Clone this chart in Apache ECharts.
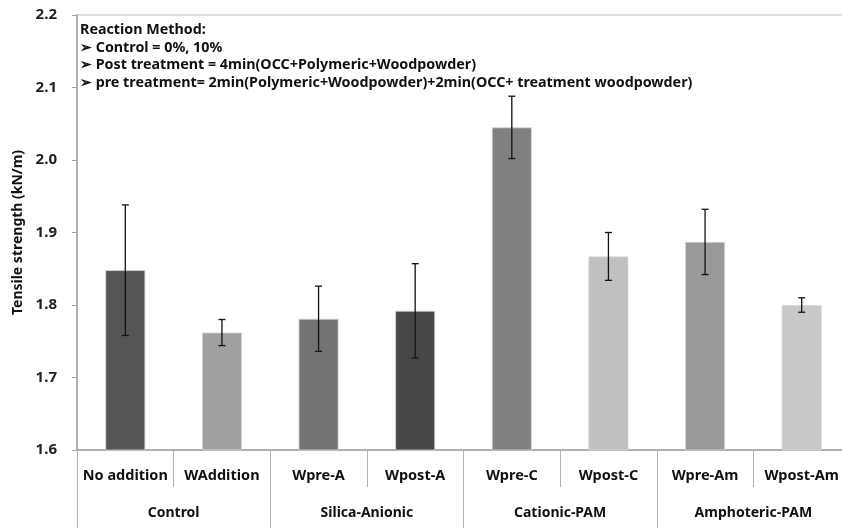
<!DOCTYPE html>
<html><head><meta charset="utf-8">
<script src="https://cdn.jsdelivr.net/npm/echarts@6/dist/echarts.min.js"></script>
<style>html,body{margin:0;padding:0;background:#fff}#c{width:842px;height:528px}</style>
</head><body><div id="c"></div>
<script>
const categories = ['No addition','WAddition','Wpre-A','Wpost-A','Wpre-C','Wpost-C','Wpre-Am','Wpost-Am'];
const groups = ['Control','Silica-Anionic','Cationic-PAM','Amphoteric-PAM'];
const values = [1.848, 1.762, 1.781, 1.792, 2.045, 1.867, 1.887, 1.800];
const errors = [0.090, 0.018, 0.045, 0.065, 0.043, 0.033, 0.045, 0.010];
const barColors = ['#555555','#a0a0a0','#737373','#464846','#808080','#c0c0c0','#999999','#c8c8c8'];
const yTicks = [1.6, 2.2, 0.1];
const noteLines = [
  'Reaction Method:',
  '➢ Control = 0%, 10%',
  '➢ Post treatment = 4min(OCC+Polymeric+Woodpowder)',
  '➢ pre treatment= 2min(Polymeric+Woodpowder)+2min(OCC+ treatment woodpowder)'
];
const FONT = '"Noto Sans", sans-serif';
const chart = echarts.init(document.getElementById('c'), null, {renderer:'canvas'});
const errData = values.map((v,i)=>[i, v - errors[i], v + errors[i]]);
chart.setOption({
  animation:false,
  backgroundColor:'#fff',
  grid:{left:77, top:15, width:773, height:435, containLabel:false, outerBoundsMode:'none',
        show:true, borderColor:'#c0c0c0', borderWidth:1, backgroundColor:'transparent'},
  xAxis:[{
    type:'category', data:categories, position:'bottom',
    axisLine:{lineStyle:{color:'#a0a0a0', width:1.5}},
    axisTick:{show:true, length:37, lineStyle:{color:'#b0b0b0'}},
    axisLabel:{color:'#111', fontFamily:FONT, fontWeight:'bold', fontSize:14.5, margin:18, interval:0}
  },{
    type:'category', data:groups, position:'bottom', gridIndex:0,
    axisLine:{show:false},
    axisTick:{show:true, length:80, lineStyle:{color:'#b0b0b0'}},
    axisLabel:{color:'#111', fontFamily:FONT, fontWeight:'bold', fontSize:14, margin:56, interval:0}
  }],
  yAxis:{
    type:'value', min:yTicks[0], max:yTicks[1], interval:yTicks[2],
    name:'Tensile strength (kN/m)', nameLocation:'middle', nameGap:52, nameRotate:90,
    nameTextStyle:{color:'#111', fontFamily:FONT, fontWeight:'bold', fontSize:14},
    axisLine:{show:true, lineStyle:{color:'#a0a0a0', width:1.5}},
    axisTick:{show:true, length:5, lineStyle:{color:'#a0a0a0'}},
    axisLabel:{color:'#222', fontFamily:FONT, fontWeight:'bold', fontSize:15, margin:20, formatter:v=>v.toFixed(1)},
    splitLine:{show:false}
  },
  series:[{
    type:'bar', xAxisIndex:0, barCategoryGap:'58.6%',
    data:values.map((v,i)=>({value:v, itemStyle:{color:barColors[i], borderColor:'#d8d8d8', borderWidth:0.8}}))
  },{
    type:'custom', xAxisIndex:0, data:errData, z:5,
    renderItem:function(params, api){
      const x = api.value(0);
      const lo = api.coord([x, api.value(1)]);
      const hi = api.coord([x, api.value(2)]);
      const w = 3.5;
      const st = {stroke:'#111', lineWidth:1.3};
      return {type:'group', children:[
        {type:'line', shape:{x1:hi[0], y1:hi[1], x2:lo[0], y2:lo[1]}, style:st},
        {type:'line', shape:{x1:hi[0]-w, y1:hi[1], x2:hi[0]+w, y2:hi[1]}, style:st},
        {type:'line', shape:{x1:lo[0]-w, y1:lo[1], x2:lo[0]+w, y2:lo[1]}, style:st}
      ]};
    }
  }],
  graphic:noteLines.map((t,i)=>({
    type:'text', left:80, top:23 + i*17.7,
    style:{text:t, fill:'#111', font:'bold 14.3px "Noto Sans", sans-serif'}
  }))
});
</script></body></html>
